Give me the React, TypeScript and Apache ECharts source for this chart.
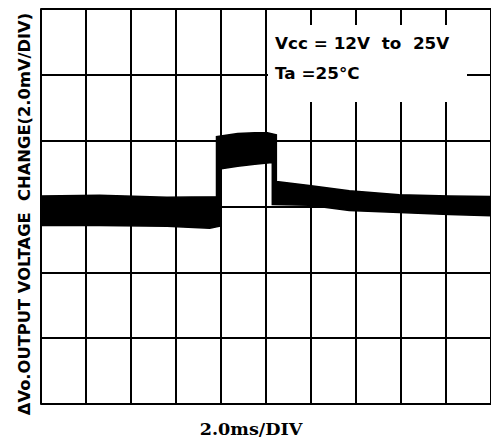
import React, { useEffect, useRef } from "react";
import * as echarts from "echarts";

// Time axis: divisions (2.0 ms/DIV), voltage axis: divisions (2.0 mV/DIV)
const xTicks = [0, 1, 2, 3, 4, 5, 6, 7, 8, 9, 10];
const yTicks = [-3, -2, -1, 0, 1, 2, 3];

// Upper envelope of the noisy trace (time in DIV, value in DIV)
const upperT = [0, 1.3, 2.8, 3.9, 3.9, 4.37, 4.75, 5.03, 5.23, 5.23, 5.96, 6.85, 7.96, 9.07, 10];
const upperV = [0.16, 0.17, 0.14, 0.15, 1.06, 1.11, 1.12, 1.12, 1.09, 0.38, 0.32, 0.24, 0.18, 0.16, 0.15];
// Lower envelope of the noisy trace
const lowerT = [0, 1.3, 2.8, 3.75, 3.97, 3.97, 4.37, 4.75, 5.14, 5.14, 5.96, 6.85, 7.96, 9.07, 10];
const lowerV = [-0.29, -0.29, -0.3, -0.33, -0.3, 0.57, 0.61, 0.64, 0.67, 0.03, 0.02, -0.06, -0.09, -0.12, -0.14];

const yTitle = "ΔVo.OUTPUT VOLTAGE  CHANGE(2.0mV/DIV)";
const xTitle = "2.0ms/DIV";
const note1 = "Vcc = 12V  to  25V";
const note2 = "Ta =25°C";

export default function App() {
  const ref = useRef<HTMLDivElement>(null);
  useEffect(() => {
    if (!ref.current) return;
    const chart = echarts.init(ref.current, null, { renderer: "svg" });
    const black = "#000";
    const axisCommon = {
      axisLine: { show: true, lineStyle: { color: black, width: 2 } },
      axisTick: { show: false },
      axisLabel: { show: false },
      splitLine: { show: true, lineStyle: { color: black, width: 2 } },
    };
    chart.setOption({
      animation: false,
      backgroundColor: "#fff",
      grid: { left: 41, top: 9, width: 451, height: 395 },
      xAxis: {
        type: "value",
        min: xTicks[0],
        max: xTicks[xTicks.length - 1],
        interval: 1,
        ...axisCommon,
      },
      yAxis: {
        type: "value",
        min: yTicks[0],
        max: yTicks[yTicks.length - 1],
        interval: 1,
        ...axisCommon,
      },
      series: [
        {
          type: "custom",
          data: [[0, 0]],
          z: 5,
          renderItem: (_params: any, api: any) => {
            const pts: number[][] = [];
            for (let i = 0; i < upperT.length; i++) pts.push(api.coord([upperT[i], upperV[i]]));
            for (let i = lowerT.length - 1; i >= 0; i--) pts.push(api.coord([lowerT[i], lowerV[i]]));
            return { type: "polygon", shape: { points: pts }, style: { fill: black, stroke: black, lineWidth: 1.5 } };
          },
        },
      ],
      graphic: [
        { type: "rect", z: 100, shape: { x: 268, y: 25, width: 199, height: 77 }, style: { fill: "#fff" } },
        {
          type: "text", z: 101, x: 275, y: 44, scaleX: 1.05,
          style: { text: note1, fill: black, font: "bold 16px 'DejaVu Sans'", textVerticalAlign: "middle" },
        },
        {
          type: "text", z: 101, x: 275, y: 74, scaleX: 1.05,
          style: { text: note2, fill: black, font: "bold 16px 'DejaVu Sans'", textVerticalAlign: "middle" },
        },
        {
          type: "text", z: 101, x: 251, y: 429, scaleX: 1.1,
          style: { text: xTitle, fill: black, font: "bold 16px 'DejaVu Serif'", textAlign: "center", textVerticalAlign: "middle" },
        },
        {
          type: "text", z: 101, x: 25, y: 214, rotation: Math.PI / 2, scaleX: 1.02,
          style: { text: yTitle, fill: black, font: "bold 16px 'DejaVu Sans'", textAlign: "center", textVerticalAlign: "middle" },
        },
      ],
    });
    return () => chart.dispose();
  }, []);
  return (
    <div
      ref={ref}
      style={{ position: "absolute", left: 0, top: 0, width: 491, height: 439, background: "#fff" }}
    />
  );
}
